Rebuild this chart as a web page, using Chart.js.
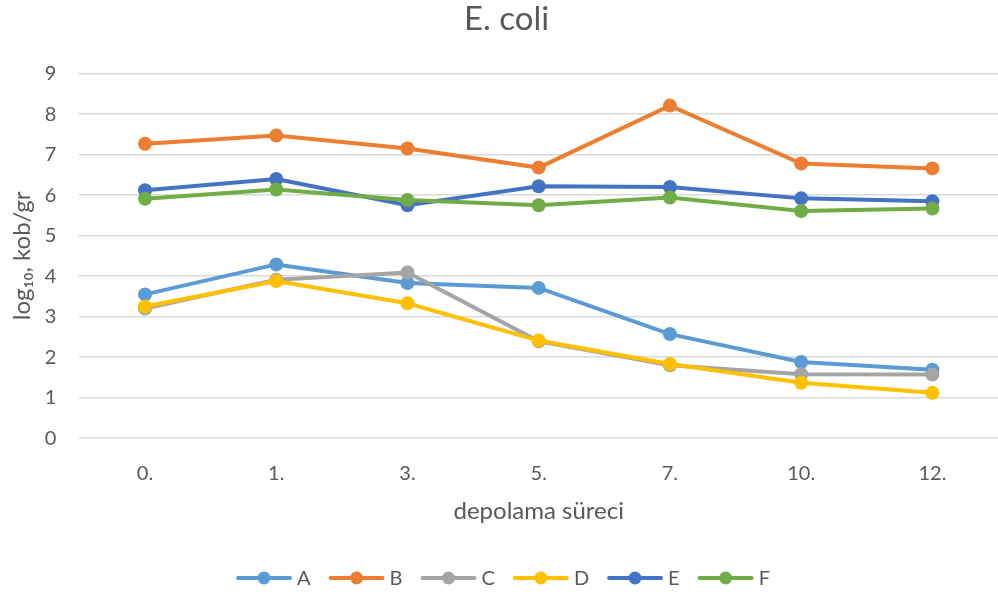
<!DOCTYPE html>
<html>
<head>
<meta charset="utf-8">
<title>E. coli</title>
<script src="https://cdn.jsdelivr.net/npm/chart.js@4.4.1/dist/chart.umd.min.js"></script>
<style>
  html, body { margin: 0; padding: 0; background: #fff; }
  #wrap { width: 998px; height: 598px; position: relative; }
</style>
</head>
<body>
<div id="wrap"><canvas id="ecoliChart"></canvas></div>
<script>
// storage days and log10 counts per sample group
var days = ['0.', '1.', '3.', '5.', '7.', '10.', '12.'];
var seriesA = [3.55, 4.29, 3.83, 3.71, 2.57, 1.88, 1.69];
var seriesB = [7.27, 7.47, 7.15, 6.68, 8.21, 6.78, 6.66];
var seriesC = [3.20, 3.91, 4.09, 2.39, 1.80, 1.58, 1.57];
var seriesD = [3.25, 3.88, 3.33, 2.41, 1.83, 1.37, 1.12];
var seriesE = [6.12, 6.40, 5.75, 6.22, 6.20, 5.92, 5.85];
var seriesF = [5.91, 6.14, 5.88, 5.75, 5.94, 5.61, 5.67];
var yTicks = [0, 1, 2, 3, 4, 5, 6, 7, 8, 9];

var textColor = '#595959';
var fontFamily = 'Lato, "Open Sans", sans-serif';

function makeSet(label, data, color, order) {
    return {
        label: label,
        data: data,
        borderColor: color,
        backgroundColor: color,
        borderWidth: 4,
        pointRadius: 7,
        pointHoverRadius: 7,
        pointBorderWidth: 0,
        tension: 0,
        order: order
    };
}

// legend drawn by hand: line segment with a dot in the middle, like office charts
var lineLegend = {
    id: 'lineLegend',
    afterDraw: function(chart) {
        var ctx = chart.ctx;
        var sets = chart.data.datasets;
        var y = 578;
        var segW = 56, gap = 5, itemGap = 18;
        ctx.save();
        ctx.font = '20px ' + fontFamily;
        var widths = sets.map(function(s) {
            return segW + gap + ctx.measureText(s.label).width;
        });
        var total = widths.reduce(function(a, b) { return a + b; }, 0) + itemGap * (sets.length - 1);
        var x = (chart.width - total) / 2 + 4;
        sets.forEach(function(s, i) {
            ctx.strokeStyle = s.borderColor;
            ctx.lineWidth = 4;
            ctx.lineCap = 'round';
            ctx.beginPath();
            ctx.moveTo(x + 2, y);
            ctx.lineTo(x + segW - 2, y);
            ctx.stroke();
            ctx.fillStyle = s.borderColor;
            ctx.beginPath();
            ctx.arc(x + segW / 2, y, 6.5, 0, Math.PI * 2);
            ctx.fill();
            ctx.fillStyle = textColor;
            ctx.textBaseline = 'middle';
            ctx.textAlign = 'left';
            ctx.fillText(s.label, x + segW + gap, y + 1);
            x += widths[i] + itemGap;
        });
        ctx.restore();
    }
};

new Chart(document.getElementById('ecoliChart'), {
    type: 'line',
    data: {
        labels: days,
        datasets: [
            makeSet('A', seriesA, '#5B9BD5', 6),
            makeSet('B', seriesB, '#ED7D31', 5),
            makeSet('C', seriesC, '#A5A5A5', 4),
            makeSet('D', seriesD, '#FFC000', 3),
            makeSet('E', seriesE, '#4472C4', 2),
            makeSet('F', seriesF, '#70AD47', 1)
        ]
    },
    plugins: [lineLegend],
    options: {
        responsive: true,
        maintainAspectRatio: false,
        animation: false,
        layout: {
            autoPadding: false,
            padding: { left: 8, right: -7, top: 0, bottom: 72 }
        },
        plugins: {
            legend: { display: false },
            tooltip: { enabled: false },
            title: {
                display: true,
                text: 'E. coli',
                color: textColor,
                font: { family: fontFamily, size: 33, weight: 'normal' },
                padding: { top: 0, bottom: 34 }
            }
        },
        scales: {
            x: {
                offset: true,
                grid: { display: false, drawTicks: false },
                border: { display: false },
                ticks: {
                    color: textColor,
                    font: { family: fontFamily, size: 20 },
                    padding: 23
                },
                title: {
                    display: true,
                    text: 'depolama süreci',
                    color: textColor,
                    font: { family: fontFamily, size: 24 },
                    padding: { top: -11, bottom: 0 }
                }
            },
            y: {
                min: 0,
                max: 9,
                afterBuildTicks: function(axis) {
                    axis.ticks = yTicks.map(function(v) { return { value: v }; });
                },
                grid: { color: '#d9d9d9', lineWidth: 1.5, drawTicks: false },
                border: { display: false },
                ticks: {
                    color: textColor,
                    font: { family: fontFamily, size: 20 },
                    padding: 23
                },
                title: {
                    display: true,
                    text: 'log₁₀, kob/gr',
                    color: textColor,
                    font: { family: fontFamily, size: 24 },
                    padding: { top: 0, bottom: -15 }
                }
            }
        }
    }
});
</script>
</body>
</html>
